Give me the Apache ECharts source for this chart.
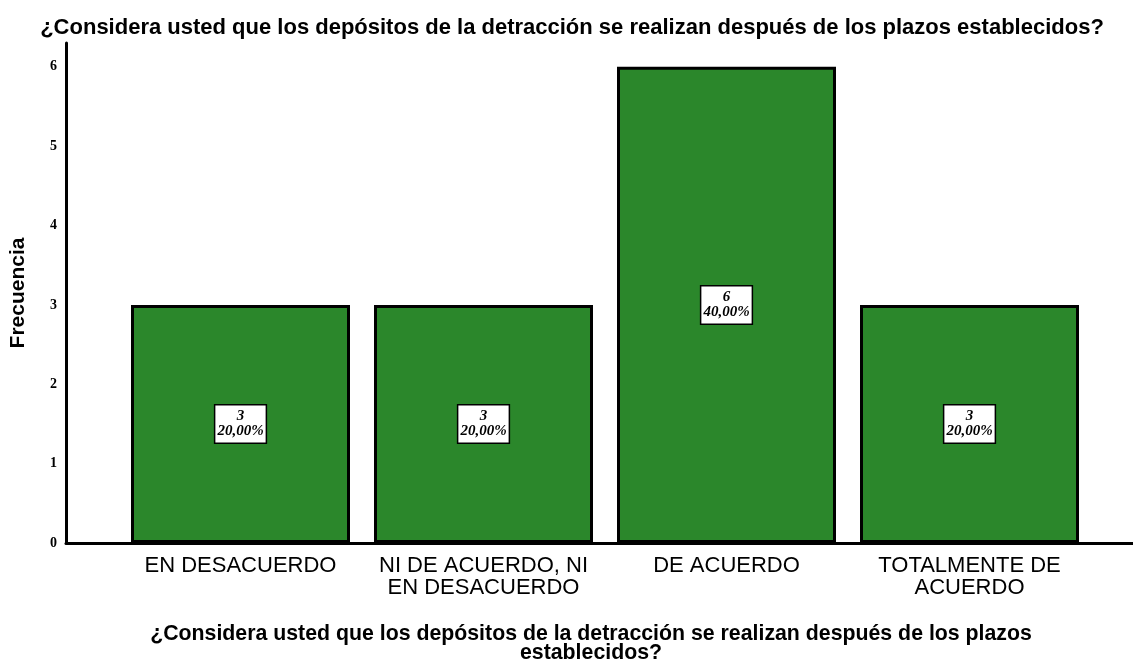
<!DOCTYPE html>
<html>
<head>
<meta charset="utf-8">
<title>Frecuencia</title>
<script src="https://cdn.jsdelivr.net/npm/echarts@6/dist/echarts.min.js"></script>
<style>
  html, body { margin: 0; padding: 0; background: #fff; }
  #main { width: 1133px; height: 661px; }
</style>
</head>
<body>
<div id="main"></div>
<script>
var categorias = ['EN DESACUERDO', 'NI DE ACUERDO, NI\nEN DESACUERDO', 'DE ACUERDO', 'TOTALMENTE DE\nACUERDO'];
var frecuencias = [3, 3, 6, 3];
var porcentajes = ['20,00%', '20,00%', '40,00%', '20,00%'];
var yTicks = [0, 1, 2, 3, 4, 5, 6];

var pregunta = '¿Considera usted que los depósitos de la detracción se realizan después de los plazos establecidos?';

var myChart = echarts.init(document.getElementById('main'));

var option = {
  animation: false,
  title: [
    {
      text: pregunta,
      left: 572, top: 17, textAlign: 'center', padding: 0,
      textStyle: { fontFamily: 'Liberation Sans', fontSize: 22, fontWeight: 'bold', color: '#000' }
    },
    {
      text: '¿Considera usted que los depósitos de la detracción se realizan después de los plazos\nestablecidos?',
      left: 591, top: 625, textAlign: 'center', padding: 0,
      textStyle: { fontFamily: 'Liberation Sans', fontSize: 21.3, fontWeight: 'bold', color: '#000', lineHeight: 19 }
    }
  ],
  grid: [
    // barras
    { left: 119, right: 42, top: 43, bottom: 118 },
    // solo para las líneas de los ejes
    { left: 66, right: 0, top: 43, bottom: 118 }
  ],
  xAxis: [
    {
      type: 'category', gridIndex: 0,
      data: categorias,
      axisLine: { show: false },
      axisTick: { show: false },
      axisLabel: {
        interval: 0, margin: 12, color: '#000',
        fontFamily: 'Liberation Sans', fontSize: 22, lineHeight: 22
      }
    },
    {
      type: 'value', gridIndex: 1, min: 0, max: 1,
      axisLine: { show: true, lineStyle: { color: '#000', width: 3 } },
      axisTick: { show: false }, axisLabel: { show: false }, splitLine: { show: false }
    }
  ],
  yAxis: [
    {
      type: 'value', gridIndex: 0, min: 0, max: 6.3, interval: 1,
      show: false
    },
    {
      type: 'value', gridIndex: 1, min: 0, max: 6.3, interval: 1,
      name: 'Frecuencia', nameLocation: 'middle', nameGap: 37,
      nameTextStyle: { fontFamily: 'Liberation Sans', fontSize: 21, fontWeight: 'bold', color: '#000' },
      axisLine: { show: true, lineStyle: { color: '#000', width: 3 } },
      axisTick: { show: false },
      splitLine: { show: false },
      axisLabel: {
        margin: 9, color: '#000',
        fontFamily: 'Liberation Serif', fontSize: 14, fontWeight: 'bold',
        formatter: function (v) { return yTicks.indexOf(v) >= 0 ? String(v) : ''; }
      }
    }
  ],
  series: [
    {
      type: 'bar',
      xAxisIndex: 0, yAxisIndex: 0,
      data: frecuencias,
      barWidth: 219,
      itemStyle: { color: '#2b872b', borderColor: '#000', borderWidth: 3 },
      label: {
        show: true, position: 'inside',
        formatter: function (p) { return p.value + '\n' + porcentajes[p.dataIndex]; },
        backgroundColor: '#fff', borderColor: '#000', borderWidth: 1.5,
        padding: [4, 2, 3, 2],
        color: '#000', fontFamily: 'Liberation Serif', fontSize: 15,
        fontStyle: 'italic', fontWeight: 'bold', lineHeight: 15
      }
    }
  ]
};

myChart.setOption(option);
</script>
</body>
</html>
